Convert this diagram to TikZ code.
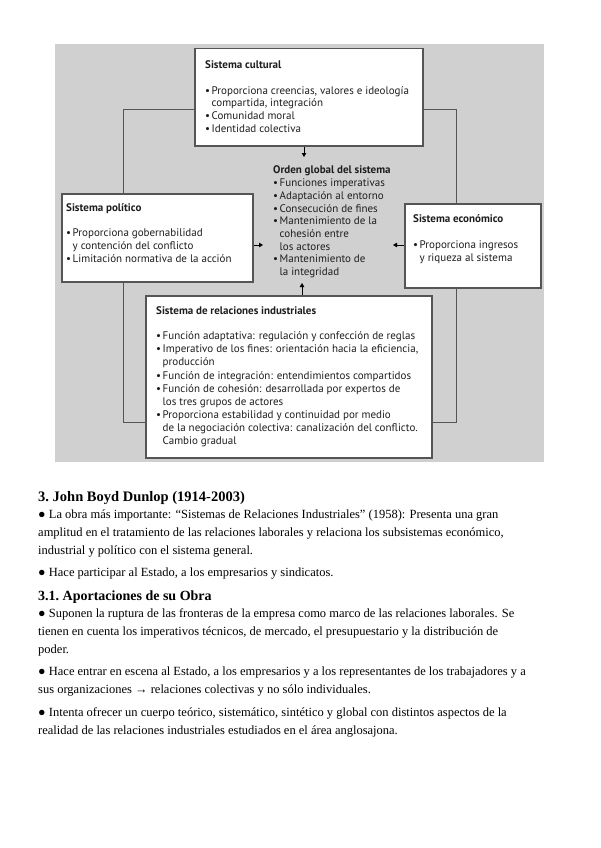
\documentclass[tikz,border=0pt]{standalone}
\usepackage{fontspec}
\setmainfont{Liberation Serif}
\newfontfamily\sysfont{PT Sans}
\usetikzlibrary{arrows.meta}
\definecolor{panelgray}{HTML}{D0D0D0}
\definecolor{edgegray}{HTML}{555555}
\definecolor{inkgray}{HTML}{1E1E1E}
\newcommand{\bl}{\makebox[6.5pt][l]{\textbullet}}
\newcommand{\ct}{\hspace*{6.5pt}}

\begin{document}
\begin{tikzpicture}[x=1pt, y=-1pt,
    sysbox/.style={draw=edgegray, line width=1.5pt, fill=white, anchor=north west, inner sep=0pt},
    boxtxt/.style={anchor=base west, align=left, inner sep=0pt, text=inkgray,
                   font=\sysfont\fontsize{11}{12.8}\selectfont},
    bodytxt/.style={anchor=base west, align=left, inner sep=0pt, font=\fontsize{12.5}{17.8}\selectfont},
    headtxt/.style={anchor=base west, inner sep=0pt, font=\bfseries\fontsize{14.5}{16}\selectfont},
    loop/.style={draw=edgegray, line width=0.9pt},
    flow/.style={-{Triangle[length=4pt,width=4.5pt]}, line width=0.8pt}]
  \useasboundingbox (0,0) rectangle (600,848);
  \fill[white] (0,0) rectangle (600,848);
  \fill[panelgray] (55,44) rectangle (544,462);
  \draw[loop] (123,109) rectangle (456,422);

  % the four subsystems
  \node[sysbox, minimum width=228pt, minimum height=97pt] (cult) at (194,48) {};
  \node[sysbox, minimum width=191pt, minimum height=88pt] (pol) at (61,193) {};
  \node[sysbox, minimum width=136pt, minimum height=84pt] (eco) at (404,203) {};
  \node[sysbox, minimum width=286pt, minimum height=162pt] (ind) at (145,295) {};

  % text sits on the baseline of its last line
  \node[boxtxt] (cult-t) at (205,132.5) {\textbf{Sistema cultural}\\[12.5pt]
    \bl Proporciona creencias, valores e ideología\\
    \ct compartida, integración\\
    \bl Comunidad moral\\
    \bl Identidad colectiva};
  \node[boxtxt] (pol-t) at (66,262) {\textbf{Sistema político}\\[12.5pt]
    \bl Proporciona gobernabilidad\\
    \ct y contención del conflicto\\
    \bl Limitación normativa de la acción};
  \node[boxtxt] (eco-t) at (413,261) {\textbf{Sistema económico}\\[13pt]
    \bl Proporciona ingresos\\
    \ct y riqueza al sistema};
  \node[boxtxt, font=\sysfont\fontsize{11}{13.1}\selectfont] (ind-t) at (156,444.5) {%
    \textbf{Sistema de relaciones industriales}\\[12pt]
    \bl Función adaptativa: regulación y confección de reglas\\
    \bl Imperativo de los fines: orientación hacia la eficiencia,\\
    \ct producción\\
    \bl Función de integración: entendimientos compartidos\\
    \bl Función de cohesión: desarrollada por expertos de\\
    \ct los tres grupos de actores\\
    \bl Proporciona estabilidad y continuidad por medio\\
    \ct de la negociación colectiva: canalización del conflicto.\\
    \ct Cambio gradual};

  % the centre
  \node[boxtxt, font=\sysfont\fontsize{11}{12.7}\selectfont] (orden) at (273,275.5) {%
    \textbf{Orden global del sistema}\\
    \bl Funciones imperativas\\
    \bl Adaptación al entorno\\
    \bl Consecución de fines\\
    \bl Mantenimiento de la\\
    \ct cohesión entre\\
    \ct los actores\\
    \bl Mantenimiento de\\
    \ct la integridad};
  \coordinate (ord-n) at (304,157);
  \coordinate (ord-w) at (263,245);
  \coordinate (ord-e) at (393,245);
  \coordinate (ord-s) at (302,283);
  \draw[flow] (cult.south -| ord-n) -- (ord-n);
  \draw[flow] (pol.east |- ord-w) -- (ord-w);
  \draw[flow] (eco.west |- ord-e) -- (ord-e);
  \draw[flow] (ind.north -| ord-s) -- (ord-s);

  % text below
  \node[headtxt] (dunlop) at (38,501.5) {3.\ John Boyd Dunlop (1914-2003)};
  \node[bodytxt] (obra) at (38,554.5) {● La obra más importante: “Sistemas de Relaciones Industriales” (1958): Presenta una gran\\
    amplitud en el tratamiento de las relaciones laborales y relaciona los subsistemas económico,\\
    industrial y político con el sistema general.};
  \node[bodytxt] (partes) at (38,576.5) {● Hace participar al Estado, a los empresarios y sindicatos.};
  \node[headtxt, font=\bfseries\fontsize{14}{16}\selectfont] (aport) at (38,600.5) {3.1.\ Aportaciones de su Obra};
  \node[bodytxt] (ruptura) at (38,653.5) {● Suponen la ruptura de las fronteras de la empresa como marco de las relaciones laborales. Se\\
    tienen en cuenta los imperativos técnicos, de mercado, el presupuestario y la distribución de\\
    poder.};
  \node[bodytxt] (escena) at (38,693.5) {● Hace entrar en escena al Estado, a los empresarios y a los representantes de los trabajadores y a\\
    sus organizaciones → relaciones colectivas y no sólo individuales.};
  \node[bodytxt] (cuerpo) at (38,734.5) {● Intenta ofrecer un cuerpo teórico, sistemático, sintético y global con distintos aspectos de la\\
    realidad de las relaciones industriales estudiados en el área anglosajona.};
\end{tikzpicture}
\end{document}
